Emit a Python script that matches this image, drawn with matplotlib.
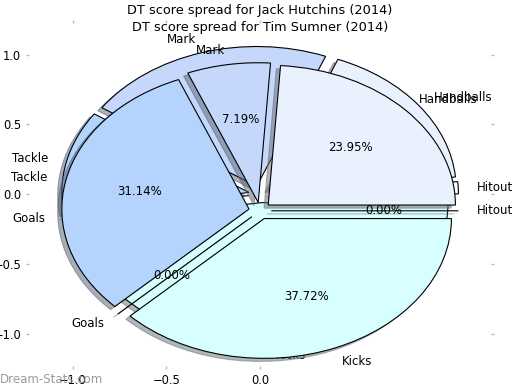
import matplotlib
matplotlib.use("Agg")
import matplotlib.pyplot as plt

# Share of DT score per stat (percent)
categories = ["Hitout", "Handballs", "Mark", "Tackle", "Goals", "Kicks"]
jack_pct = [1.4, 17.6, 21.5, 11.9, 0.0, 47.6]
tim_pct = [0.0, 23.95, 7.19, 31.14, 0.0, 37.72]
colors = ["#f8fbff", "#eaf1fe", "#c5d8fc", "#b4d4fd", "#e4f4ff", "#d8ffff"]

players = ["Jack Hutchins", "Tim Sumner"]
season = 2014

fig = plt.figure(figsize=(5.2, 3.9), dpi=100)

explode = [0.06] * len(categories)
wedge_style = dict(edgecolor="black", linewidth=0.8)
text_style = dict(fontsize=8.5)
shadow_style = dict(ox=-0.016, oy=-0.016, shade=0.55)

# first player, axes with the ticks
ax1 = fig.add_axes([0.05, 0.0538, 0.9, 0.896])
ax1.pie(jack_pct, labels=categories, colors=colors, explode=explode,
        shadow=shadow_style, startangle=0, wedgeprops=wedge_style,
        textprops=text_style)
ax1.set_aspect("auto")
ax1.set_frame_on(False)
ax1.set_xlim(-1.25, 1.25)
ax1.set_ylim(-1.25, 1.25)
ax1.set_xticks([-1.0, -0.5, 0.0])
ax1.set_yticks([-1.0, -0.5, 0.0, 0.5, 1.0])
ax1.tick_params(direction="in", length=2.5, width=1, color="#b8b8b8",
                top=True, right=True, labelsize=8.3)
ax1.set_title("DT score spread for %s (%d)" % (players[0], season),
              fontsize=9.3, pad=4)

# second player, drawn on top and shifted a bit lower
ax2 = fig.add_axes([0.05, 0.0115, 0.9, 0.896])
ax2.pie(tim_pct, labels=categories, colors=colors, explode=explode,
        autopct="%.2f%%", shadow=shadow_style, startangle=0,
        wedgeprops=wedge_style, textprops=text_style)
ax2.set_aspect("auto")
ax2.set_frame_on(False)
ax2.set_xlim(-1.25, 1.25)
ax2.set_ylim(-1.25, 1.25)
ax2.set_xticks([])
ax2.set_yticks([])
ax2.set_title("DT score spread for %s (%d)" % (players[1], season),
              fontsize=9.3, pad=4)

fig.text(0.0, 0.026, "Dream-Stats.com", color="#9a9a9a", fontsize=8.5,
         ha="left", va="center")

fig.savefig("out.png", dpi=100)
